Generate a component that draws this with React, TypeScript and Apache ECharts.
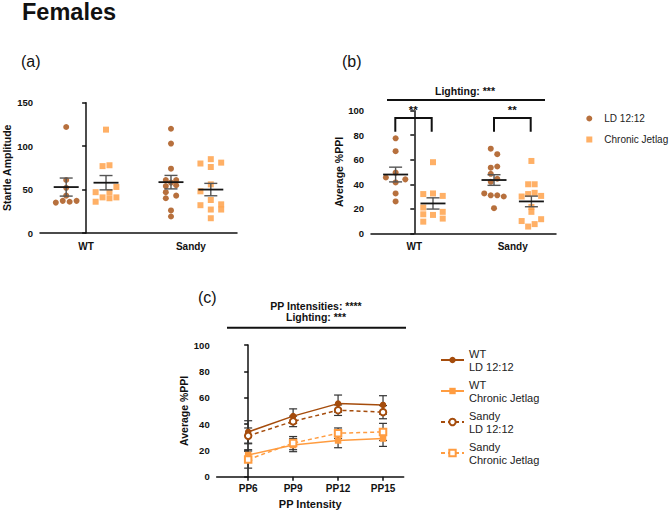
import React, { useEffect, useRef } from 'react';
import * as echarts from 'echarts';

// ---------- data ----------
const groups = ['WT', 'Sandy'];
const conditions = ['LD 12:12', 'Chronic Jetlag'];

// (a) Startle amplitude
const startleWtLd = [122, 61, 52, 43, 35, 37, 36, 37];
const startleWtLdJit = [0, 0, 0, 0, -3, -1, 1, 3];
const startleWtCj = [119, 77, 78, 47, 47, 53, 41, 40, 41, 36];
const startleWtCjJit = [0, -1, 1, -3, 1, 3, -1, 1, 3, -3];
const startleSandyLd = [120, 103, 74, 61, 61, 58, 54, 55, 47, 40, 43, 26, 19];
const startleSandyLdJit = [0, 0, 0, -1.5, 1.5, 0, -1.5, 1.5, -1.5, -1.5, 1.5, 0, 0];
const startleSandyCj = [80, 85, 81, 76, 56, 48, 38, 32, 33, 27, 27, 17];
const startleSandyCjJit = [-3, 0, 3, 0, 0, -3, 0, -3, 3, 3, 0, 0];

// (b) Average %PPI
const ppiWtLd = [77.5, 67, 49.5, 45.5, 44, 41.5, 32.5, 26];
const ppiWtLdJit = [0, 0, 0, -3, 3, 0, 0, 0];
const ppiWtCj = [58, 32, 32.5, 30.5, 21, 15.5, 15, 17.5, 12, 9.5];
const ppiWtCjJit = [0, -3, 0, 3, -3, -3, 0, 3, 3, -3];
const ppiSandyLd = [69, 64.5, 53.5, 54.5, 48.5, 44.5, 42, 32.5, 31, 31, 30, 20.5];
const ppiSandyLdJit = [-1, 1, -1, 1, -1, 1, -1, -3, -1, 1, 3, 0];
const ppiSandyCj = [59, 40, 40, 30, 32, 33, 30.5, 21.5, 17.5, 10, 5.5, 7.5, 11.5];
const ppiSandyCjJit = [0, -1, 1, -3, -1, 1, 3, 0, 0, -3, -1, 1, 3];

// (c) %PPI by PP intensity (mean, SEM)
const ppLabels = ['PP6', 'PP9', 'PP12', 'PP15'];
const lineNames = ['WT\nLD 12:12', 'WT\nChronic Jetlag', 'Sandy\nLD 12:12', 'Sandy\nChronic Jetlag'];
const wtLdMean = [34, 46, 55.5, 54.5];
const wtLdSem = [8.5, 5.5, 6.5, 7];
const wtCjMean = [16.5, 24, 27.5, 29];
const wtCjSem = [4, 5, 5.5, 6];
const sandyLdMean = [31, 42, 50.5, 49];
const sandyLdSem = [6, 4, 4, 5];
const sandyCjMean = [13, 25.5, 33, 34];
const sandyCjSem = [6.5, 5, 4, 6.5];

// ---------- style ----------
const FONT = '"Liberation Sans", Arial, Helvetica, sans-serif';
const DARK = '#A54C0C';
const LIGHT = '#FF9C40';
const INK = '#111111';
const JIT = 0.033;
const COND_OFF = [-0.19, 0.19];

function pts(values: number[], jit: number[], gi: number, ci: number) {
  return values.map((v, k) => [gi + COND_OFF[ci] + jit[k] * JIT, v]);
}
function meanSem(values: number[]) {
  const n = values.length;
  const m = values.reduce((a, b) => a + b, 0) / n;
  const sd = Math.sqrt(values.reduce((a, b) => a + (b - m) * (b - m), 0) / (n - 1));
  return [m, sd / Math.sqrt(n)];
}
function summary(sets: number[][][]) {
  const out: number[][] = [];
  sets.forEach((g, gi) => g.forEach((vals, ci) => {
    const [m, s] = meanSem(vals);
    out.push([gi + COND_OFF[ci], m, s]);
  }));
  return out;
}

const meanSemRender = (params: any, api: any) => {
  const x = api.value(0), m = api.value(1), s = api.value(2);
  const c = api.coord([x, m]);
  const t = api.coord([x, m + s]);
  const b = api.coord([x, m - s]);
  const mh = 12.5, ch = 6.5;
  const semStyle = { stroke: '#555', lineWidth: 1.4 };
  return {
    type: 'group',
    children: [
      { type: 'line', shape: { x1: c[0], y1: t[1], x2: c[0], y2: b[1] }, style: semStyle },
      { type: 'line', shape: { x1: c[0] - ch, y1: t[1], x2: c[0] + ch, y2: t[1] }, style: semStyle },
      { type: 'line', shape: { x1: c[0] - ch, y1: b[1], x2: c[0] + ch, y2: b[1] }, style: semStyle },
      { type: 'line', shape: { x1: c[0] - mh, y1: c[1], x2: c[0] + mh, y2: c[1] }, style: { stroke: '#151515', lineWidth: 1.8 } },
    ],
  };
};

const errRender = (params: any, api: any) => {
  const x = api.value(0), m = api.value(1), s = api.value(2);
  const t = api.coord([x, m + s]);
  const b = api.coord([x, m - s]);
  const ch = 4;
  const st = { stroke: '#333', lineWidth: 1.2 };
  return {
    type: 'group',
    children: [
      { type: 'line', shape: { x1: t[0], y1: t[1], x2: t[0], y2: b[1] }, style: st },
      { type: 'line', shape: { x1: t[0] - ch, y1: t[1], x2: t[0] + ch, y2: t[1] }, style: st },
      { type: 'line', shape: { x1: t[0] - ch, y1: b[1], x2: t[0] + ch, y2: b[1] }, style: st },
    ],
  };
};

const yAxisBase = (gridIndex: number, name: string, max: number, interval: number, nameGap: number) => ({
  type: 'value', gridIndex, min: 0, max, interval, name, nameLocation: 'middle', nameGap, nameRotate: 90,
  nameTextStyle: { fontFamily: FONT, fontWeight: 'bold', fontSize: 10.5, color: INK },
  axisLine: { show: true, lineStyle: { color: INK, width: 1.5 } },
  axisTick: { show: true, length: 4, lineStyle: { color: INK, width: 1.5 } },
  axisLabel: { fontFamily: FONT, fontWeight: 'bold', fontSize: 9.5, color: INK, margin: 7 },
  splitLine: { show: false },
});

const xGroupAxis = (gridIndex: number) => ({
  type: 'value', gridIndex, min: -0.44, max: 1.44,
  axisLine: { show: true, onZero: false, lineStyle: { color: INK, width: 1.5 } },
  axisTick: { show: false },
  splitLine: { show: false },
  axisLabel: {
    customValues: [0, 1],
    formatter: (v: number) => groups[Math.round(v)] ?? '',
    fontFamily: FONT, fontWeight: 'bold', fontSize: 10, color: INK, margin: 8,
  },
});

function text(x: number, y: number, t: string, size: number, weight: string, align = 'left') {
  return {
    type: 'text', x, y, silent: true,
    style: {
      text: t, fill: INK, font: `${weight} ${size}px ${FONT}`,
      textAlign: align, textVerticalAlign: 'middle', align, verticalAlign: 'middle',
    },
  };
}
function hline(x1: number, x2: number, y: number, w = 1.8) {
  return { type: 'line', silent: true, shape: { x1, y1: y, x2, y2: y }, style: { stroke: INK, lineWidth: w } };
}
function bracket(x1: number, x2: number, top: number, bottom: number) {
  return {
    type: 'polyline', silent: true,
    shape: { points: [[x1, bottom], [x1, top], [x2, top], [x2, bottom]] },
    style: { stroke: INK, lineWidth: 2, fill: null },
  };
}

export default function App() {
  const ref = useRef<HTMLDivElement>(null);
  useEffect(() => {
    if (!ref.current) return;
    const chart = echarts.init(ref.current, undefined, { renderer: 'svg' });

    const lineSets = [
      { mean: wtLdMean, sem: wtLdSem, color: DARK, symbol: 'circle', dashed: false },
      { mean: wtCjMean, sem: wtCjSem, color: LIGHT, symbol: 'rect', dashed: false },
      { mean: sandyLdMean, sem: sandyLdSem, color: DARK, symbol: 'emptyCircle', dashed: true },
      { mean: sandyCjMean, sem: sandyCjSem, color: LIGHT, symbol: 'emptyRect', dashed: true },
    ];

    const series: any[] = [
      // (a)
      {
        type: 'scatter', name: conditions[0], xAxisIndex: 0, yAxisIndex: 0, symbol: 'circle', symbolSize: 6,
        itemStyle: { color: DARK },
        data: [...pts(startleWtLd, startleWtLdJit, 0, 0), ...pts(startleSandyLd, startleSandyLdJit, 1, 0)],
      },
      {
        type: 'scatter', name: conditions[1], xAxisIndex: 0, yAxisIndex: 0, symbol: 'rect', symbolSize: 6,
        itemStyle: { color: LIGHT },
        data: [...pts(startleWtCj, startleWtCjJit, 0, 1), ...pts(startleSandyCj, startleSandyCjJit, 1, 1)],
      },
      {
        type: 'custom', xAxisIndex: 0, yAxisIndex: 0, z: 5, renderItem: meanSemRender,
        encode: { x: 0, y: 1 },
        data: summary([[startleWtLd, startleWtCj], [startleSandyLd, startleSandyCj]]),
      },
      // (b)
      {
        type: 'scatter', name: conditions[0], xAxisIndex: 1, yAxisIndex: 1, symbol: 'circle', symbolSize: 6,
        itemStyle: { color: DARK },
        data: [...pts(ppiWtLd, ppiWtLdJit, 0, 0), ...pts(ppiSandyLd, ppiSandyLdJit, 1, 0)],
      },
      {
        type: 'scatter', name: conditions[1], xAxisIndex: 1, yAxisIndex: 1, symbol: 'rect', symbolSize: 6,
        itemStyle: { color: LIGHT },
        data: [...pts(ppiWtCj, ppiWtCjJit, 0, 1), ...pts(ppiSandyCj, ppiSandyCjJit, 1, 1)],
      },
      {
        type: 'custom', xAxisIndex: 1, yAxisIndex: 1, z: 5, renderItem: meanSemRender,
        encode: { x: 0, y: 1 },
        data: summary([[ppiWtLd, ppiWtCj], [ppiSandyLd, ppiSandyCj]]),
      },
    ];

    lineSets.forEach((ls, i) => {
      series.push({
        type: 'custom', xAxisIndex: 2, yAxisIndex: 2, z: 1, renderItem: errRender,
        encode: { x: 0, y: 1 },
        data: ls.mean.map((m, k) => [k, m, ls.sem[k]]),
      });
      series.push({
        type: 'line', name: lineNames[i], xAxisIndex: 2, yAxisIndex: 2, z: 3,
        symbol: ls.symbol, symbolSize: 6.5,
        itemStyle: { color: ls.color, borderWidth: ls.symbol.startsWith('empty') ? 1.3 : 0 },
        lineStyle: { color: ls.color, width: 1.5, type: ls.dashed ? [4, 3] : 'solid' },
        data: ls.mean.map((m, k) => [k, m]),
      });
    });

    chart.setOption({
      animation: false,
      textStyle: { fontFamily: FONT },
      grid: [
        { left: 40, top: 102.7, width: 197, height: 130.3 },
        { left: 371, top: 110.7, width: 185, height: 122.6 },
        { left: 216.7, top: 345, width: 187, height: 131.7 },
      ],
      xAxis: [
        xGroupAxis(0),
        xGroupAxis(1),
        {
          type: 'value', gridIndex: 2, min: -0.7, max: 3.46,
          name: 'PP Intensity', nameLocation: 'middle', nameGap: 22,
          nameTextStyle: { fontFamily: FONT, fontWeight: 'bold', fontSize: 11, color: INK },
          axisLine: { show: true, onZero: false, lineStyle: { color: INK, width: 1.5 } },
          axisTick: { show: true, length: 4, customValues: [0, 1, 2, 3], lineStyle: { color: INK, width: 1.5 } },
          splitLine: { show: false },
          axisLabel: {
            customValues: [0, 1, 2, 3],
            formatter: (v: number) => ppLabels[Math.round(v)] ?? '',
            fontFamily: FONT, fontWeight: 'bold', fontSize: 10, color: INK, margin: 7,
          },
        },
      ],
      yAxis: [
        yAxisBase(0, 'Startle Amplitude', 150, 50, 28),
        yAxisBase(1, 'Average %PPI', 100, 20, 24),
        yAxisBase(2, 'Average %PPI', 100, 20, 25),
      ],
      legend: [
        {
          orient: 'vertical', left: 586.3, top: 113.5, padding: 0, itemWidth: 6, itemHeight: 6, itemGap: 11,
          data: [{ name: conditions[0], icon: 'circle' }, { name: conditions[1], icon: 'rect' }],
          selectedMode: false,
          textStyle: { fontFamily: FONT, fontSize: 10, color: '#222', padding: [0, 0, 0, 7] },
        },
        {
          orient: 'vertical', left: 440, top: 347, padding: 0, itemWidth: 23, itemHeight: 8, itemGap: 5,
          data: lineNames, selectedMode: false,
          textStyle: { fontFamily: FONT, fontSize: 11, color: '#222', lineHeight: 13 },
        },
      ],
      graphic: [
        text(22, 12, 'Females', 23.5, 'bold'),
        text(21, 61, '(a)', 16, 'normal'),
        text(342, 61, '(b)', 16, 'normal'),
        text(198, 297, '(c)', 16, 'normal'),
        // (b) annotations
        text(465, 90.7, 'Lighting: ***', 10.5, 'bold', 'center'),
        hline(387, 545, 100, 1.8),
        text(413.3, 110, '**', 11.5, 'bold', 'center'),
        bracket(395.3, 431.7, 118, 131.7),
        text(512.3, 110, '**', 11.5, 'bold', 'center'),
        bracket(494, 530.7, 118, 131.7),
        // (c) annotations
        text(316, 306, 'PP Intensities: ****', 10.5, 'bold', 'center'),
        text(316, 317.3, 'Lighting: ***', 10.5, 'bold', 'center'),
        hline(227, 406, 327.7, 2),
      ],
      series,
    });

    return () => chart.dispose();
  }, []);

  return <div ref={ref} style={{ position: 'absolute', left: 0, top: 0, width: 670, height: 513 }} />;
}
